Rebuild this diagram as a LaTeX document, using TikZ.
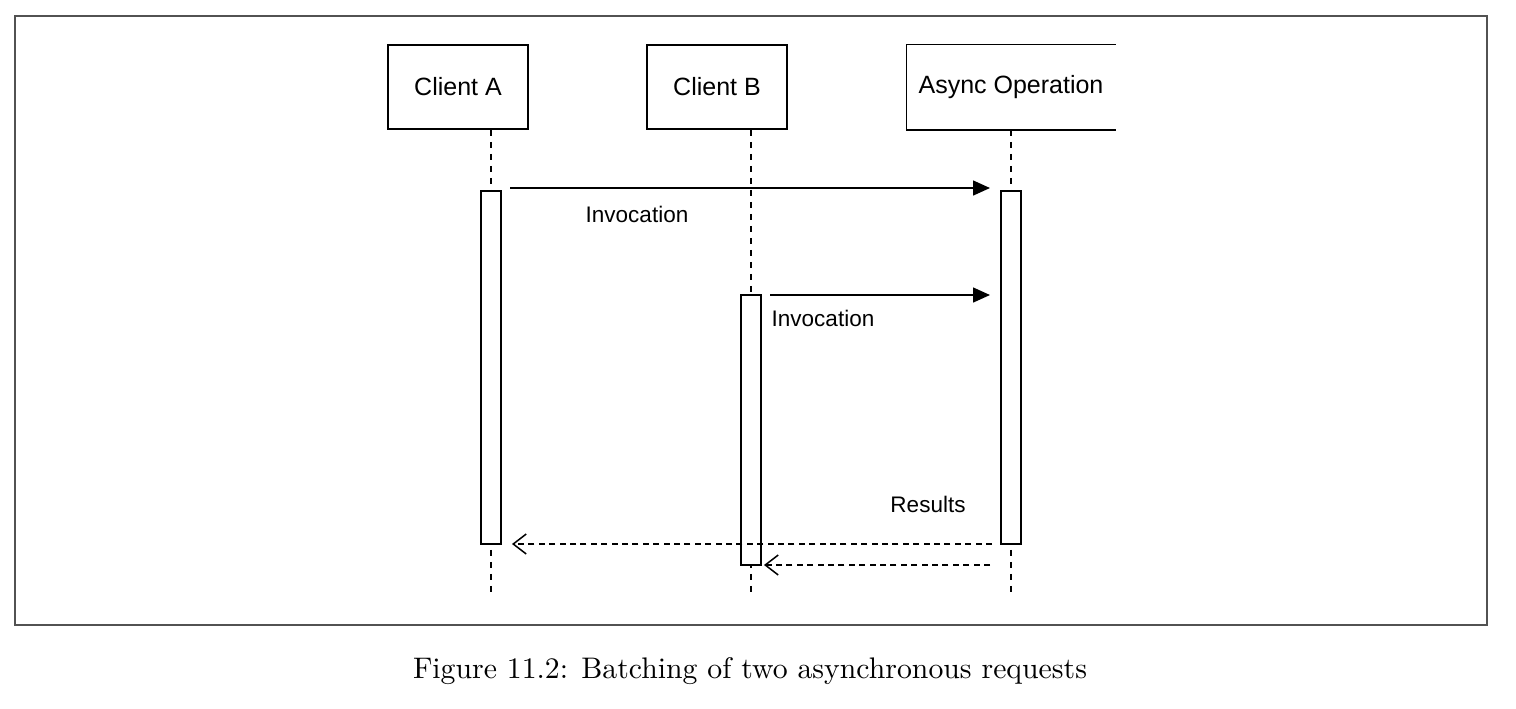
\documentclass[tikz,border=0pt]{standalone}
\usepackage{fontspec}
\setsansfont{Liberation Sans}
\usetikzlibrary{arrows.meta}
\begin{document}
\begin{tikzpicture}[x=0.5pt,y=-0.5pt,
  hdr/.style={draw=black,line width=0.75pt,inner sep=0pt,minimum width=70pt,minimum height=42pt,font=\sffamily\fontsize{12.5}{15}\selectfont},
  bar/.style={draw=black,fill=white,line width=0.75pt,inner sep=0pt,minimum width=10pt},
  life/.style={line width=0.9pt,dash pattern=on 3pt off 3pt},
  msg/.style={line width=0.75pt,-{Triangle[length=8.5pt,width=7.5pt]}},
  ret/.style={line width=0.75pt,dash pattern=on 3pt off 2.2pt,-{Straight Barb[length=6.5pt,width=10pt,line width=0.75pt]}},
  lbl/.style={inner sep=0pt,font=\sffamily\fontsize{11.25}{13}\selectfont}]
\useasboundingbox (0,0) rectangle (1516,708);
% frame
\draw[draw=black!68,line width=1.1pt] (15,16) rectangle (1487,625);
% headers
\node[hdr] (ca) at (458,87) {Client A};
\node[hdr] (cb) at (717,87) {Client B};
\node[hdr,draw=none,minimum width=104pt] (ao) at (1011,87) {Async Operation};
\draw[line width=0.75pt] (ao.north east) -- (ao.north west) -- (ao.south west) -- (ao.south east);
% lifeline ends
\coordinate (ea) at (491,597);
\coordinate (eb) at (751,597);
\coordinate (ec) at (1011,597);
\draw[life] (ca.south -| ea) -- (ea);
\draw[life] (cb.south -| eb) -- (eb);
\draw[life] (ao.south -| ec) -- (ec);
% activation bars
\node[bar,minimum height=176.5pt] (ba) at (491,367.5) {};
\node[bar,minimum height=176.5pt] (bc) at (1011,367.5) {};
\node[bar,minimum height=135pt] (bb) at (751,430) {};
% messages
\coordinate (m1s) at (510,188);
\coordinate (m1e) at (990,188);
\coordinate (m2s) at (770,295);
\coordinate (m2e) at (990,295);
\draw[msg] (m1s) -- (m1e);
\draw[msg] (m2s) -- (m2e);
\node[lbl] (l1) at (637,214) {Invocation};
\node[lbl] (l2) at (823,318) {Invocation};
% returns
\coordinate (r1s) at (992,544);
\coordinate (r1e) at (512,544);
\coordinate (r2s) at (990,565);
\coordinate (r2e) at (764,565);
\draw[ret] (r1s) -- (r1e);
\draw[ret] (r2s) -- (r2e);
\node[lbl] (l3) at (928,504) {Results};
% caption
\node[inner sep=0pt] (cap) at (750,671) {\resizebox{337pt}{!}{Figure 11.2: Batching of two asynchronous requests}};
\end{tikzpicture}
\end{document}
